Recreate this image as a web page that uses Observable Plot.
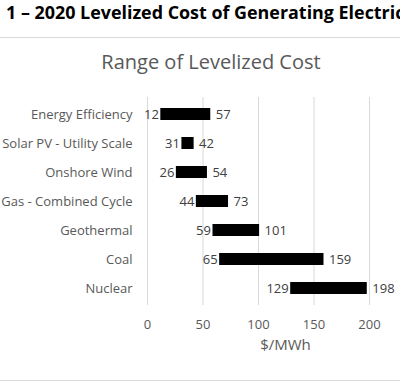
<!DOCTYPE html>
<html><head><meta charset="utf-8">
<script src="https://cdn.jsdelivr.net/npm/d3@7"></script>
<script src="https://cdn.jsdelivr.net/npm/@observablehq/plot@0.6"></script>
<style>
body{margin:0;background:#fff;font-family:"Open Sans",sans-serif;}
#wrap{width:400px;height:383px;position:relative;overflow:hidden;}
#title{position:absolute;left:6px;top:0;height:37px;line-height:25px;font-weight:bold;font-size:17.9px;color:#000;white-space:nowrap;}
#rule1{position:absolute;left:0;top:37px;width:400px;height:1px;background:#d9d9d9;}
#sub{position:absolute;left:22px;top:48px;width:378px;text-align:center;font-size:20px;line-height:28px;color:#595959;}
#chart{position:absolute;left:0;top:80px;}
#rule2{position:absolute;left:0;top:380px;width:400px;height:1px;background:#d9d9d9;}
</style></head>
<body><div id="wrap">
<div id="title">1 – 2020 Levelized Cost of Generating Electricity</div>
<div id="rule1"></div>
<div id="sub">Range of Levelized Cost</div>
<div id="chart"></div>
<div id="rule2"></div>
</div>
<script>
const categories = ["Energy Efficiency","Solar PV - Utility Scale","Onshore Wind","Gas - Combined Cycle","Geothermal","Coal","Nuclear"];
const lowValues = [12,31,26,44,59,65,129];
const highValues = [57,42,54,73,101,159,198];
const xTicks = [0,50,100,150,200];

const data = categories.map((c,i)=>({tech:c, low:lowValues[i], high:highValues[i]}));

const chart = Plot.plot({
  width:400, height:300,
  marginTop:17, marginBottom:75, marginLeft:147, marginRight:31,
  style:{fontFamily:"Open Sans", fontSize:"13px", color:"#595959", background:"transparent"},
  x:{domain:[0,200], label:null},
  y:{domain:categories, paddingInner:0.6, paddingOuter:0.3, label:null},
  marks:[
    Plot.ruleX(xTicks,{stroke:"#d9d9d9", strokeWidth:1}),
    Plot.axisX({ticks:xTicks, tickSize:0, tickPadding:14, fontSize:13, fill:"#595959"}),
    Plot.axisY({tickSize:0, tickPadding:15, fontSize:13, fill:"#595959"}),
    Plot.text(["$/MWh"],{frameAnchor:"bottom", dy:44, dx:27, fontSize:15, fill:"#595959"}),
    Plot.barX(data,{y:"tech", x1:"low", x2:"high", fill:"#000"}),
    Plot.text(data,{y:"tech", x:"low", text:d=>String(d.low), textAnchor:"end", dx:-2, fontSize:13, fill:"#404040"}),
    Plot.text(data,{y:"tech", x:"high", text:d=>String(d.high), textAnchor:"start", dx:5, fontSize:13, fill:"#404040"})
  ]
});
document.getElementById("chart").appendChild(chart);
</script>
</body></html>
